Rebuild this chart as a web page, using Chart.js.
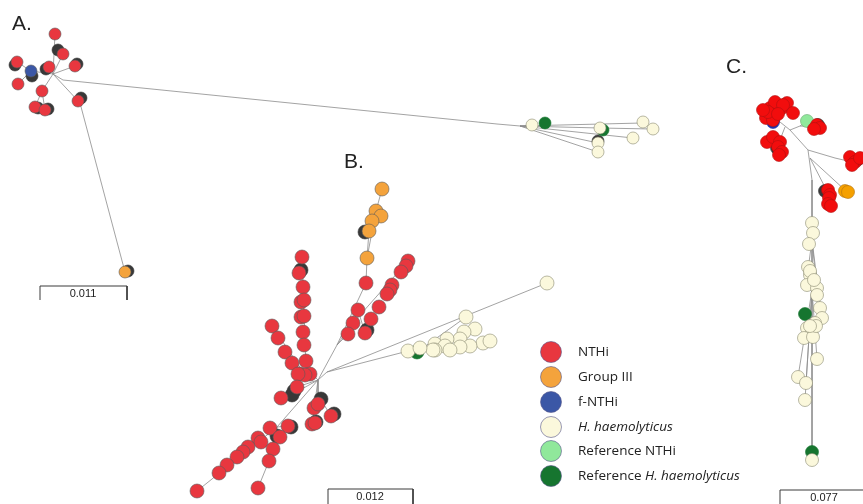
<!DOCTYPE html>
<html>
<head>
<meta charset="utf-8">
<script src="https://cdn.jsdelivr.net/npm/chart.js@4.4.0/dist/chart.umd.min.js"></script>
<style>
  html, body { margin: 0; padding: 0; background: #fff; }
  #tree { display: block; }
</style>
</head>
<body>
<canvas id="tree" width="863" height="504"></canvas>
<script>
// node positions (figure units, y down)
// panel A
const aRed = [[55,34],[63,54],[17,62],[18,84],[49,67],[75,66],[42,91],[35,107],[45,110],[78,101]];
const aShadow = [[58,50],[15,65],[32,76],[46,69],[77,64],[38,108],[48,109],[81,98],[128,271],[598,141]];
const aBlue = [[31,71]];
const aOrange = [[125,272]];
const aCream = [[532,125],[600,128],[643,122],[653,129],[633,138],[598,143],[598,152]];
const aRefHh = [[545,123],[603,130]];
const aEdges = [
  [55,34,53,74],[63,54,53,74],[17,62,31,71],[18,84,31,71],[31,71,53,74],[49,67,53,74],[75,66,53,74],
  [42,91,53,74],[42,91,35,107],[42,91,45,110],[53,74,80,103],[80,103,125,272],
  [53,74,63,80],[63,80,497,124],
  [497,124,520,126],[520,126,532,125],[520,126,642,123],[520,126,600,128],[600,128,652,129],
  [520,126,633,138],[520,126,598,143],[520,126,598,152]
];

// panel B
const bRed = [
  [408,261],[406,266],[401,272],[392,285],[390,290],[387,294],[379,307],[371,319],[365,333],[358,310],[353,323],[348,334],[366,283],
  [302,257],[299,273],[303,287],[301,302],[304,300],[301,317],[304,316],[303,332],[304,345],[306,361],[310,374],[300,374],[305,375],
  [272,326],[278,338],[285,352],[292,363],[298,374],[281,398],[297,387],
  [314,408],[318,404],[331,416],[312,424],[315,423],
  [288,426],[270,428],[280,437],[258,438],[261,442],[273,449],[248,447],[243,452],[237,457],[227,465],[219,473],[197,491],[269,461],[258,488]
];
const bShadow = [[365,232],[367,330],[301,270],[294,391],[292,395],[321,399],[334,414],[316,422],[291,427],[277,436]];
const bOrange = [[382,189],[376,211],[381,216],[372,221],[369,231],[367,258]];
const bCream = [[547,283],[466,317],[475,329],[464,332],[460,339],[447,339],[435,344],[445,346],[483,343],[490,341],
  [470,346],[460,347],[450,350],[435,350],[408,351],[433,350],[420,348]];
const bRefHh = [[417,352]];
const bEdges = [
  [318,380,277,427],[277,427,197,491],[277,427,269,461],[269,461,258,488],[277,427,288,426],
  [318,380,312,424],[318,380,318,395],[318,395,331,416],
  [281,398,300,390],[300,390,318,380],[297,387,318,380],
  [318,380,306,368],[306,368,302,257],[272,326,306,376],
  [318,380,337,345],[337,345,366,283],[366,283,367,258],[367,258,376,211],[376,211,382,189],[367,258,369,231],
  [337,345,348,334],[337,345,353,323],[353,323,408,261],[358,310,365,333],
  [318,380,327,372],[327,372,547,283],[327,372,408,351],
  [408,351,490,341],[420,350,466,317],[430,346,475,329],[420,350,483,343]
];

// panel C
const cRed = [[770,108],[766,118],[773,120],[782,108],[787,103],[775,102],[793,113],[783,105],[768,112],[778,114],[763,110],
  [817,125],[820,128],[814,129],
  [767,142],[773,137],[780,142],[778,147],[782,152],[779,155],
  [850,157],[855,162],[852,165],[860,158],
  [828,190],[830,195],[829,198],[828,204],[831,206]];
const cShadow = [[772,110],[774,114],[776,107],[770,115],[818,125],[777,148],[857,160],[825,191]];
const cBlue = [[773,122]];
const cRefNthi = [[807,121]];
const cOrange = [[845,191],[848,192]];
const cCream = [[812,223],[813,233],[809,244],[808,267],[810,275],[807,285],[817,288],[817,295],[820,308],[822,318],
  [815,323],[807,328],[812,330],[804,338],[813,337],[817,359],[798,377],[806,383],[805,400],[812,460],
  [810,271],[814,280],[816,326],[810,326]];
const cRefHh = [[805,314],[812,452]];
const cEdges = [
  [775,118,790,130],[790,130,808,150],[808,150,812,180],[812,180,812,460],
  [790,130,800,126],[800,126,807,121],[800,126,817,127],[785,127,778,145],
  [808,150,835,158],[835,158,852,162],[810,158,829,195],[810,158,846,191],
  [812,240,808,270],[812,240,817,292],[812,240,821,312],[812,290,798,377],[812,290,806,383],[812,290,805,400],[812,290,817,359]
];

// scale bars
const scaleLabels = ['0.011','0.012','0.077'];
const scaleBars = [[40,300,40,286,127,286,127,300],[328,504,328,489,413,489,413,504],[780,504,780,490,870,490,870,504]];

// legend
const legendNames = ['NTHi','Group III','f-NTHi','H. haemolyticus','Reference NTHi','Reference H. haemolyticus'];
const legendColors = ['#e8373f','#f4a33c','#3b57a6','#fbf8dc','#90e89b','#16752f'];
const panelTitles = ['A.','B.','C.'];

const RED = '#e8373f', RED_C = '#f20d0d', SHADOW = '#383838', BORDER = '#5a5a5a';

const toPts = a => a.map(([x, y]) => ({x, y}));

function nodes(arr, color, r, border, order) {
  return {data: toPts(arr), showLine: false, pointRadius: r, pointHoverRadius: r,
    pointBackgroundColor: color, pointBorderColor: border || BORDER, pointBorderWidth: 0.6,
    clip: false, order: order || 1};
}
function edges(list) {
  return list.map(e => ({data: [{x: e[0], y: e[1]}, {x: e[2], y: e[3]}], showLine: true,
    borderColor: '#8c8c8c', borderWidth: 0.8, pointRadius: 0, clip: false, order: 5}));
}
function bars(list) {
  return list.map(b => {
    let d = [];
    for (let i = 0; i < b.length; i += 2) d.push({x: b[i], y: b[i + 1]});
    return {data: d, showLine: true, borderColor: '#3a3a3a', borderWidth: 1, pointRadius: 0, clip: false, order: 5};
  });
}

const legendY = [352, 377, 402, 427, 451, 476];

const datasets = [
  ...edges(aEdges), ...edges(bEdges), ...edges(cEdges), ...bars(scaleBars),
  nodes(aShadow, SHADOW, 6, SHADOW, 3), nodes(bShadow, SHADOW, 7, SHADOW, 3), nodes(cShadow, SHADOW, 6.5, SHADOW, 3),
  nodes(aRed, RED, 6), nodes(aBlue, '#3b57a6', 6), nodes(aOrange, '#f4a33c', 6),
  nodes(aCream, '#fbf8dc', 6, '#8a8a70'), nodes(aRefHh, '#16752f', 6, '#16752f'),
  nodes(bOrange, '#f4a33c', 7), nodes(bRed, RED, 7), nodes(bCream, '#fbf8dc', 7, '#8a8a70'), nodes(bRefHh, '#16752f', 7, '#16752f'),
  nodes(cBlue, '#2233aa', 6.5, '#2233aa', 2), nodes(cRed, RED_C, 6.5, '#b01010'), nodes(cRefNthi, '#90e89b', 6.5, '#6aa870'),
  nodes(cOrange, '#f5a000', 6.5, '#b07010'), nodes(cCream, '#fbf8dc', 6.5, '#8a8a70'), nodes(cRefHh, '#16752f', 6.5, '#16752f'),
  ...legendColors.map((c, i) => nodes([[551, legendY[i]]], c, 10.5, '#55558a'))
];

const textPlugin = {
  id: 'texts',
  afterDatasetsDraw(chart) {
    const ctx = chart.ctx, sx = chart.scales.x, sy = chart.scales.y;
    const px = v => sx.getPixelForValue(v), py = v => sy.getPixelForValue(v);
    ctx.save();
    ctx.fillStyle = '#222';
    ctx.font = '21px "Liberation Sans", Arial, sans-serif';
    ctx.textBaseline = 'alphabetic';
    ctx.textAlign = 'left';
    [[12, 30], [344, 168], [726, 73]].forEach((p, i) => ctx.fillText(panelTitles[i], px(p[0]), py(p[1])));

    ctx.font = '11px "Liberation Sans", Arial, sans-serif';
    ctx.textAlign = 'center';
    ctx.textBaseline = 'middle';
    [[83, 294], [370, 497], [824, 498]].forEach((p, i) => ctx.fillText(scaleLabels[i], px(p[0]), py(p[1])));

    ctx.textAlign = 'left';
    legendNames.forEach((name, i) => {
      let x = px(578), y = py(legendY[i]);
      let parts = name.indexOf('H. haemolyticus') >= 0
        ? [[name.replace('H. haemolyticus', ''), false], ['H. haemolyticus', true]]
        : [[name, false]];
      parts.forEach(([t, it]) => {
        if (!t) return;
        ctx.font = (it ? 'italic ' : '') + '13.5px "Open Sans", "Liberation Sans", sans-serif';
        ctx.fillText(t, x, y);
        x += ctx.measureText(t).width;
      });
    });
    ctx.restore();
  }
};

new Chart(document.getElementById('tree'), {
  type: 'scatter',
  data: {datasets},
  options: {
    responsive: false,
    animation: false,
    layout: {padding: 0, autoPadding: false},
    plugins: {legend: {display: false}, tooltip: {enabled: false}},
    events: [],
    scales: {
      x: {type: 'linear', min: 0, max: 863, display: false},
      y: {type: 'linear', min: 0, max: 504, reverse: true, display: false}
    }
  },
  plugins: [textPlugin]
});
</script>
</body>
</html>
